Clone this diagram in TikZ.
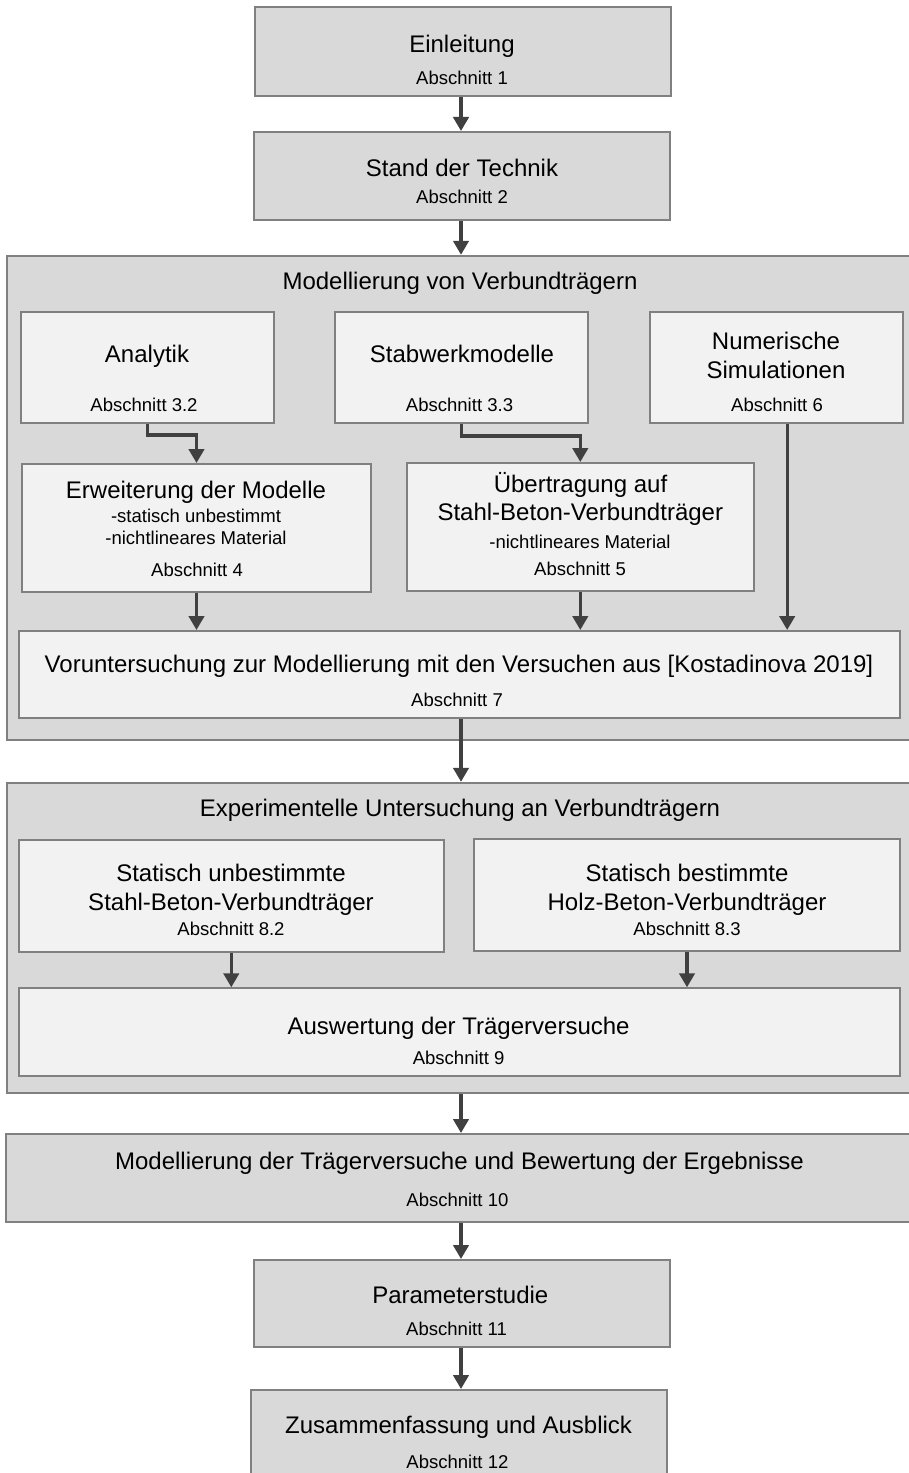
\documentclass[tikz,border=0pt]{standalone}
\usepackage{fontspec}
\setmainfont{Liberation Sans}
\usetikzlibrary{fit,arrows.meta}
\definecolor{rahmen}{HTML}{808080}
\definecolor{dunkel}{HTML}{D9D9D9}
\definecolor{hell}{HTML}{F2F2F2}
\definecolor{pfeilfarbe}{HTML}{404040}

\begin{document}
\begin{tikzpicture}[x=0.75pt,y=-0.75pt,
    kasten/.style={draw=rahmen,line width=1.5pt,fill=dunkel,inner sep=0pt},
    hellkasten/.style={kasten,fill=hell},
    gruppe/.style={kasten,line width=1.8pt},
    haupt/.style={anchor=base,inner sep=0pt,font=\fontsize{18}{21.6}\selectfont},
    klein/.style={anchor=base,inner sep=0pt,font=\fontsize{13.9}{16.7}\selectfont},
    pfeil/.style={draw=pfeilfarbe,line width=2.5pt,-{Triangle[width=11.5pt,length=10.5pt]}}]
  \useasboundingbox (0,0) rectangle (909,1473);
  \clip (0,0) rectangle (909,1473);
  \coordinate (mitte) at (461,0);
  \node[kasten,fit={(255,7) (671,96)}] (einl) {};
  \node[haupt] (einl-t) at (462,53) {Einleitung}; \node[klein] (einl-s) at (462,85) {Abschnitt 1};
  \node[kasten,fit={(254,132) (670,220)}] (stand) {};
  \node[haupt] (stand-t) at (462,176.5) {Stand der Technik}; \node[klein] (stand-s) at (462,204) {Abschnitt 2};

  \node[gruppe,fit={(7,256) (912,740)}] (modgr) {};
  \node[haupt] (modgr-t) at (460,289) {Modellierung von Verbundtr\"agern};
  \node[hellkasten,fit={(21,312) (274,423)}] (ana) {};
  \node[haupt] (ana-t) at (147,362.5) {Analytik}; \node[klein] (ana-s) at (144,411) {Abschnitt 3.2};
  \node[hellkasten,fit={(335,312) (588,423)}] (stab) {};
  \node[haupt] (stab-t) at (462,362.5) {Stabwerkmodelle}; \node[klein] (stab-s) at (459.5,411) {Abschnitt 3.3};
  \node[hellkasten,fit={(650,312) (903,423)}] (num) {};
  \node[haupt] (num-a) at (776,349) {Numerische}; \node[haupt] (num-b) at (776,378.3) {Simulationen};
  \node[klein] (num-s) at (777,411) {Abschnitt 6};
  \node[hellkasten,fit={(22,464) (371,592)}] (erw) {};
  \node[haupt] (erw-t) at (196,498.3) {Erweiterung der Modelle};
  \node[klein] (erw-a) at (196,522.7) {-statisch unbestimmt}; \node[klein] (erw-b) at (196,544.3) {-nichtlineares Material};
  \node[klein] (erw-s) at (197,576.7) {Abschnitt 4};
  \node[hellkasten,fit={(407,463) (753.6,591)}] (ueb) {};
  \node[haupt] (ueb-a) at (580.5,492.3) {\"Ubertragung auf}; \node[haupt] (ueb-b) at (580.3,520) {Stahl-Beton-Verbundtr\"ager};
  \node[klein] (ueb-c) at (580,548.3) {-nichtlineares Material}; \node[klein] (ueb-s) at (580,575.7) {Abschnitt 5};
  \node[hellkasten,fit={(18.6,631) (899.7,718.3)}] (vor) {};
  \node[haupt] (vor-t) at (459,672.7) {Voruntersuchung zur Modellierung mit den Versuchen aus [Kostadinova 2019]};
  \node[klein] (vor-s) at (457,706.7) {Abschnitt 7};

  \node[gruppe,fit={(7,783) (912,1093)}] (expgr) {};
  \node[haupt] (expgr-t) at (460,816.7) {Experimentelle Untersuchung an Verbundtr\"agern};
  \node[hellkasten,fit={(18.6,840) (444,952)}] (su) {};
  \node[haupt] (su-a) at (231,881.7) {Statisch unbestimmte}; \node[haupt] (su-b) at (231,910.7) {Stahl-Beton-Verbundtr\"ager};
  \node[klein] (su-s) at (231,935) {Abschnitt 8.2};
  \node[hellkasten,fit={(474,839) (900,951)}] (sb) {};
  \node[haupt] (sb-a) at (687,881.7) {Statisch bestimmte}; \node[haupt] (sb-b) at (687,910.7) {Holz-Beton-Verbundtr\"ager};
  \node[klein] (sb-s) at (687,935) {Abschnitt 8.3};
  \node[hellkasten,fit={(18.6,988.3) (900,1075.7)}] (ausw) {};
  \node[haupt] (ausw-t) at (458.6,1034) {Auswertung der Tr\"agerversuche}; \node[klein] (ausw-s) at (458.6,1064.3) {Abschnitt 9};

  \node[kasten,fit={(6,1134) (912,1221.7)}] (model) {};
  \node[haupt] (model-t) at (459.5,1169.3) {Modellierung der Tr\"agerversuche und Bewertung der Ergebnisse};
  \node[klein] (model-s) at (457.4,1206.7) {Abschnitt 10};
  \node[kasten,fit={(254,1260) (669.6,1346.7)}] (param) {};
  \node[haupt] (param-t) at (460.3,1303.3) {Parameterstudie}; \node[klein] (param-s) at (456.5,1335.7) {Abschnitt 11};
  \node[kasten,fit={(251,1390) (667,1495)}] (zus) {};
  \node[haupt] (zus-t) at (458.6,1433.3) {Zusammenfassung und Ausblick}; \node[klein] (zus-s) at (457.4,1468.3) {Abschnitt 12};

  \draw[pfeil] (einl.south -| mitte) -- (stand.north -| mitte);
  \draw[pfeil] (stand.south -| mitte) -- (modgr.north -| mitte);
  \draw[pfeil] (ana.south) -- ++(0,11) -| (erw.north);
  \draw[pfeil] (stab.south) -- ++(0,12) -| (ueb.north);
  \draw[pfeil] ([xshift=8pt]num.south) -- ([xshift=8pt]num.south |- vor.north);
  \draw[pfeil] (erw.south) -- (erw.south |- vor.north);
  \draw[pfeil] (ueb.south) -- (ueb.south |- vor.north);
  \draw[pfeil] (vor.south -| mitte) -- (expgr.north -| mitte);
  \draw[pfeil] (su.south) -- (su.south |- ausw.north);
  \draw[pfeil] (sb.south) -- (sb.south |- ausw.north);
  \draw[pfeil] (expgr.south -| mitte) -- (model.north -| mitte);
  \draw[pfeil] (model.south -| mitte) -- (param.north -| mitte);
  \draw[pfeil] (param.south -| mitte) -- (zus.north -| mitte);
\end{tikzpicture}
\end{document}
